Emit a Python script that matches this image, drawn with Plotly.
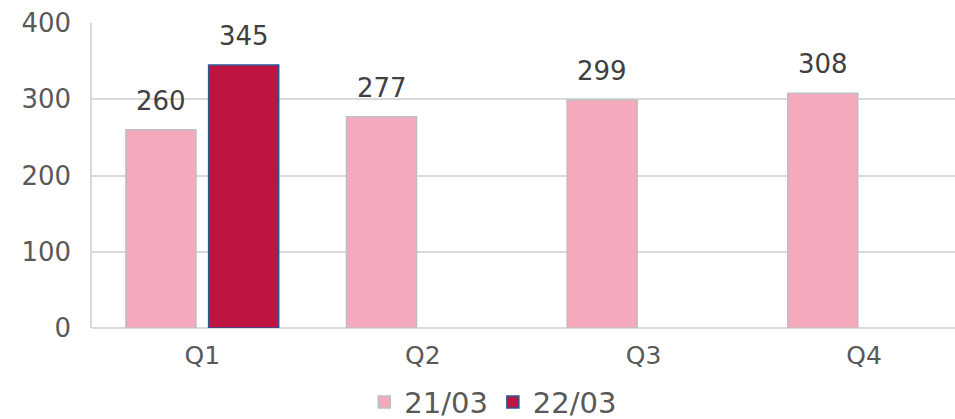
import plotly.graph_objects as go

categories = ["Q1", "Q2", "Q3", "Q4"]
series_2103 = [260, 277, 299, 308]
series_2203 = [345, None, None, None]
series_names = ["21/03", "22/03"]
y_ticks = [0, 100, 200, 300, 400]

FONT = "DejaVu Sans"
TXT = "#595959"

fig = go.Figure()
fig.add_trace(go.Bar(
    name=series_names[0], x=categories, y=series_2103,
    marker=dict(color="#F4A9BC", line=dict(color="#BFBFBF", width=1.5)),
))
fig.add_trace(go.Bar(
    name=series_names[1], x=categories, y=series_2203,
    marker=dict(color="#BE1540", line=dict(color="#2F5597", width=1.5)),
))

# data labels
offsets = [-41.3, 41.3]
for vals, dx in zip([series_2103, series_2203], offsets):
    for c, v in zip(categories, vals):
        if v is None:
            continue
        fig.add_annotation(
            x=c, y=v, xref="x", yref="y", text=str(v), showarrow=False,
            xshift=dx, yanchor="bottom", yshift=12,
            font=dict(family=FONT, size=26, color="#404040"),
        )

fig.update_layout(
    width=955, height=419,
    margin=dict(l=92, r=0, t=23, b=91, autoexpand=False),
    paper_bgcolor="white", plot_bgcolor="white",
    barmode="group", bargap=0.25, bargroupgap=0.153,
    font=dict(family=FONT, color=TXT, size=26),
    showlegend=True,
    legend=dict(
        orientation="h", x=0.465, xanchor="center", y=-0.243, yanchor="middle",
        font=dict(family=FONT, size=29, color=TXT),
        itemwidth=30, bgcolor="rgba(0,0,0,0)",
    ),
)
fig.update_xaxes(
    type="category", range=[-0.5, -0.5 + 863 / 220.6],
    showgrid=False, showline=False, zeroline=False, automargin=False,
    tickfont=dict(family=FONT, size=25, color=TXT),
    ticklabelstandoff=10,
)
fig.update_yaxes(
    range=[0, 400], tickvals=y_ticks, automargin=False,
    showgrid=True, gridcolor="#D9D9D9", gridwidth=1.5,
    showline=True, linecolor="#D9D9D9", linewidth=1.5,
    zeroline=True, zerolinecolor="#D9D9D9", zerolinewidth=1.5,
    tickfont=dict(family=FONT, size=26, color=TXT),
    ticklabelstandoff=14,
)

fig.write_html(
    "out.html",
    config={"displayModeBar": False},
    post_script="document.body.style.margin='0';document.body.style.overflow='hidden';",
)
